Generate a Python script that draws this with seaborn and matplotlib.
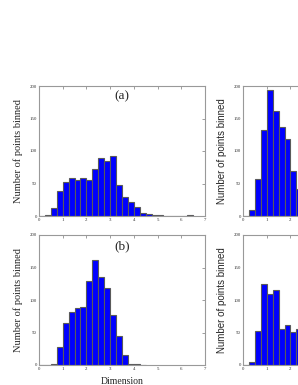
import numpy as np
import pandas as pd
import matplotlib
matplotlib.use("Agg")
import matplotlib.pyplot as plt
import seaborn as sns

# bin edges shared by all panels (width 0.25)
bin_width = 0.25

# counts per bin (bins start at 0)
counts_a = [0, 2, 12, 39, 53, 58, 56, 59, 55, 72, 89, 84, 93, 47, 30, 21,
            14, 5, 3, 1, 1, 0, 0, 0, 0, 1]
counts_b = [0, 0, 2, 27, 64, 81, 87, 89, 129, 161, 135, 119, 77, 45, 15,
            1, 1, 0]
counts_c = [0, 9, 57, 133, 194, 161, 137, 118, 70, 42]
counts_d = [0, 4, 53, 125, 110, 115, 56, 61, 51, 56]

x_ticks = [0, 1, 2, 3, 4, 5, 6, 7]
y_ticks = [0, 50, 100, 150, 200]
ylabel = "Number of points binned"

sns.set_style("white")
plt.rcParams["font.family"] = ["Liberation Serif", "DejaVu Serif"]

fig = plt.figure(figsize=(2.98, 3.85), dpi=100)

W = 166 / 298
H = 130 / 385
ax_a = fig.add_axes([39 / 298, 1 - 216 / 385, W, H])
ax_b = fig.add_axes([39 / 298, 1 - 365 / 385, W, H])
ax_c = fig.add_axes([243 / 298, 1 - 216 / 385, W, H])
ax_d = fig.add_axes([243 / 298, 1 - 365 / 385, W, H])


def draw(ax, counts):
    edges = [i * bin_width for i in range(len(counts) + 1)]
    centers = [e + bin_width / 2 for e in edges[:-1]]
    df = pd.DataFrame({"dim": centers, "n": counts})
    sns.histplot(data=df, x="dim", weights="n", bins=edges, ax=ax,
                 color="#0000ff", alpha=1, edgecolor="#5a5a5a", linewidth=0.8)
    ax.set_xlim(0, 7)
    ax.set_ylim(0, 200)
    ax.set_xticks(x_ticks)
    ax.set_yticks(y_ticks)
    ax.tick_params(direction="in", top=True, right=True, length=2,
                   width=0.5, colors="#777777", labelsize=3.5, pad=1.5,
                   labelcolor="#333333")
    for sp in ax.spines.values():
        sp.set_color("#999999")
        sp.set_linewidth(0.8)
    ax.set_xlabel("")
    ax.set_ylabel("")


for ax, c in [(ax_a, counts_a), (ax_b, counts_b), (ax_c, counts_c), (ax_d, counts_d)]:
    draw(ax, c)

# left column labels (serif)
for ax in (ax_a, ax_b):
    ax.set_ylabel(ylabel, fontsize=7.5, labelpad=5)
ax_b.set_xlabel("Dimension", fontsize=7, labelpad=4)

ax_a.text(0.5, 0.92, "(a)", transform=ax_a.transAxes, ha="center", va="center",
          fontsize=9.5)
ax_b.text(0.5, 0.91, "(b)", transform=ax_b.transAxes, ha="center", va="center",
          fontsize=9.5)

# right column labels (sans)
for ax in (ax_c, ax_d):
    ax.set_ylabel(ylabel, fontsize=7, labelpad=5, family=["Liberation Sans", "DejaVu Sans"])

fig.savefig("out.png", dpi=100)
